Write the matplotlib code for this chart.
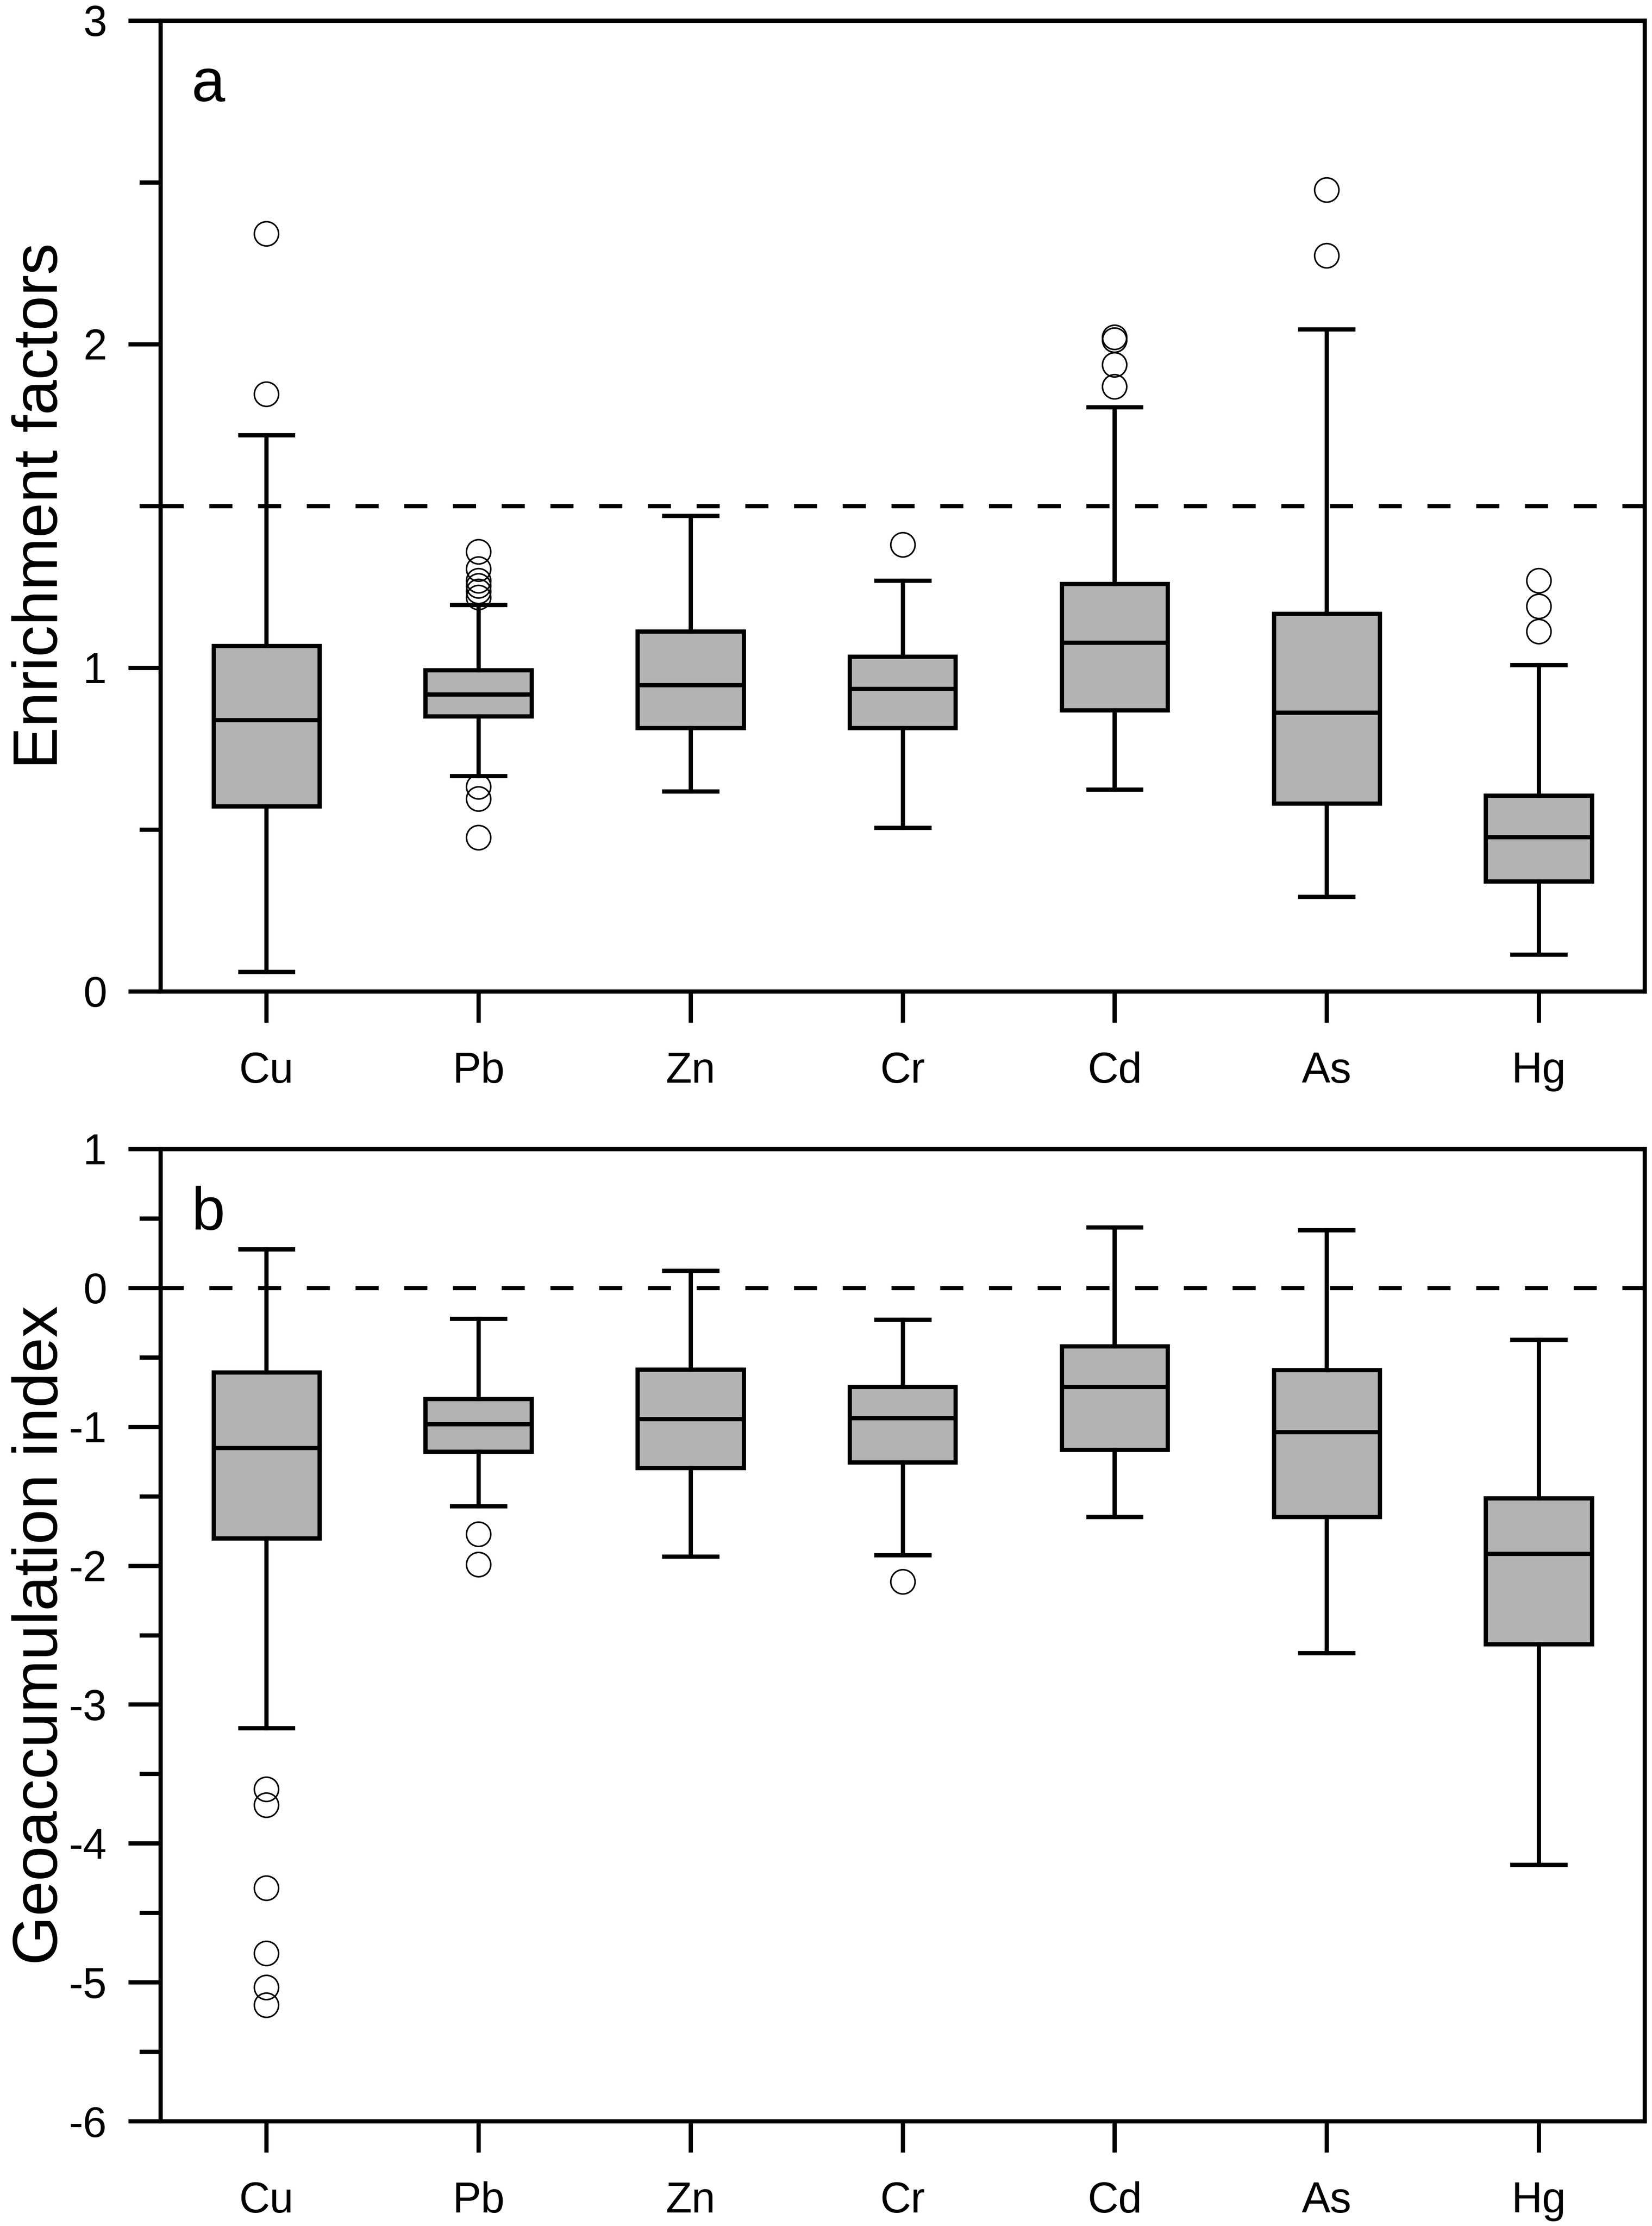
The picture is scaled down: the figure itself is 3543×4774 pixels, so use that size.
import numpy as np
import matplotlib
matplotlib.use("Agg")
import matplotlib.pyplot as plt
from matplotlib.ticker import MultipleLocator

plt.rcParams['font.family'] = ['Liberation Sans', 'DejaVu Sans']
plt.rcParams['axes.unicode_minus'] = False

elements = ["Cu", "Pb", "Zn", "Cr", "Cd", "As", "Hg"]

# (a) enrichment factors
ef_whislo = [0.06, 0.665, 0.618, 0.506, 0.624, 0.293, 0.114]
ef_q1 = [0.572, 0.850, 0.814, 0.814, 0.869, 0.580, 0.340]
ef_med = [0.838, 0.918, 0.947, 0.935, 1.078, 0.861, 0.477]
ef_q3 = [1.067, 0.992, 1.112, 1.034, 1.259, 1.167, 0.605]
ef_whishi = [1.719, 1.194, 1.470, 1.270, 1.806, 2.046, 1.008]
ef_fliers = [
    [2.342, 1.846],
    [1.359, 1.306, 1.270, 1.253, 1.236, 1.217, 0.633, 0.595, 0.475],
    [],
    [1.380],
    [2.021, 2.013, 1.937, 1.869],
    [2.477, 2.274],
    [1.270, 1.190, 1.112],
]

# (b) geoaccumulation index
igeo_whislo = [-3.169, -1.572, -1.935, -1.924, -1.650, -2.630, -4.154]
igeo_q1 = [-1.805, -1.178, -1.297, -1.256, -1.167, -1.650, -2.567]
igeo_med = [-1.152, -0.981, -0.944, -0.939, -0.711, -1.038, -1.914]
igeo_q3 = [-0.607, -0.799, -0.587, -0.711, -0.421, -0.592, -1.515]
igeo_whishi = [0.279, -0.224, 0.124, -0.229, 0.435, 0.414, -0.374]
igeo_fliers = [
    [-3.61, -3.724, -4.32, -4.79, -5.035, -5.165],
    [-1.774, -1.992],
    [],
    [-2.116],
    [],
    [],
    [],
]


def make_stats(lo, q1, med, q3, hi, fl):
    stats = []
    for i in range(len(elements)):
        stats.append(dict(label=elements[i], whislo=lo[i], q1=q1[i],
                          med=med[i], q3=q3[i], whishi=hi[i],
                          fliers=np.array(fl[i])))
    return stats


def draw_panel(ax, stats, ylim, ref, ylabel, letter):
    lw = 2.2
    ax.bxp(stats, positions=range(1, len(elements) + 1), widths=0.5,
           capwidths=0.25, patch_artist=True,
           boxprops=dict(facecolor='#b3b3b3', edgecolor='black', linewidth=lw),
           medianprops=dict(color='black', linewidth=lw),
           whiskerprops=dict(color='black', linewidth=lw),
           capprops=dict(color='black', linewidth=lw),
           flierprops=dict(marker='o', markersize=12.5, markerfacecolor='none',
                           markeredgecolor='black', markeredgewidth=0.8))
    ax.axhline(ref, color='black', linewidth=lw, linestyle=(0, (5.4, 6.0)),
               zorder=1)
    ax.set_xlim(0.5, 7.5)
    ax.set_ylim(*ylim)
    ax.yaxis.set_major_locator(MultipleLocator(1))
    ax.yaxis.set_minor_locator(MultipleLocator(0.5))
    for s in ax.spines.values():
        s.set_linewidth(lw)
    ax.tick_params(axis='y', which='major', length=16.5, width=lw, pad=11,
                   labelsize=22)
    ax.tick_params(axis='y', which='minor', length=10.8, width=lw)
    ax.tick_params(axis='x', length=16, width=lw, pad=15, labelsize=22)
    ax.set_ylabel(ylabel, fontsize=32.5, va='baseline')
    ax.yaxis.set_label_coords(-0.0693, 0.5)
    ax.text(0.021, 0.917, letter, transform=ax.transAxes, fontsize=31,
            va='baseline', ha='left')


fig = plt.figure(figsize=(3543 / 300, 4774 / 300), dpi=300)
ax_a = fig.add_axes([0.0971, 0.5547, 0.8985, 0.4361])
ax_b = fig.add_axes([0.0971, 0.0471, 0.8985, 0.4368])

draw_panel(ax_a, make_stats(ef_whislo, ef_q1, ef_med, ef_q3, ef_whishi, ef_fliers),
           (0, 3), 1.5, "Enrichment factors", "a")
draw_panel(ax_b, make_stats(igeo_whislo, igeo_q1, igeo_med, igeo_q3, igeo_whishi,
                            igeo_fliers),
           (-6, 1), 0.0, "Geoaccumulation index", "b")

fig.savefig("out.png", dpi=300)
